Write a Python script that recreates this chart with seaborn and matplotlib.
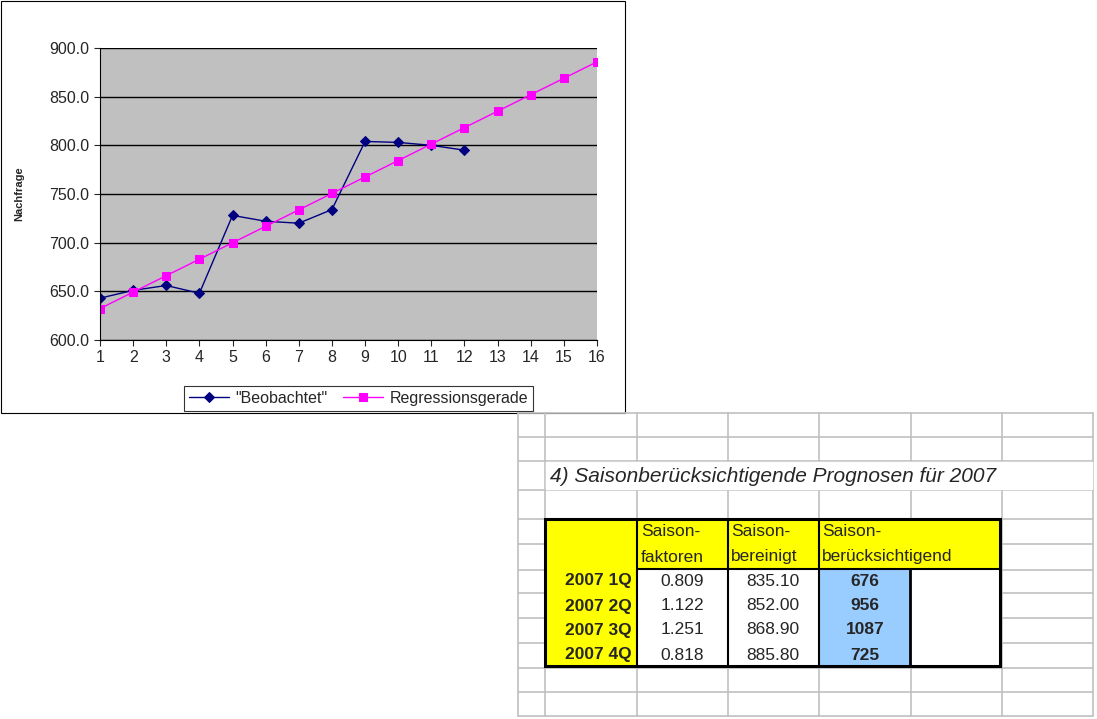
import numpy as np
import pandas as pd
import matplotlib
matplotlib.use('Agg')
import matplotlib.pyplot as plt
import seaborn as sns

# chart data
periods = list(range(1, 17))
observed = [643, 651, 656, 648, 728, 722, 720, 734, 804, 803, 800, 795]
regression = [632.3, 649.2, 666.1, 683.0, 699.9, 716.8, 733.7, 750.6,
              767.5, 784.4, 801.3, 818.2, 835.1, 852.0, 868.9, 885.8]

# table data
quarters = ['2007 1Q', '2007 2Q', '2007 3Q', '2007 4Q']
faktoren = ['0.809', '1.122', '1.251', '0.818']
bereinigt = ['835.10', '852.00', '868.90', '885.80']
prognose = ['676', '956', '1087', '725']

sns.set_style('white')
plt.rcParams['font.family'] = ['Liberation Sans', 'DejaVu Sans']

W, H = 1097, 719
fig = plt.figure(figsize=(W / 100, H / 100), dpi=100)

def box(x0, y0, x1, y1):
    return [x0 / W, 1 - y1 / H, (x1 - x0) / W, (y1 - y0) / H]

# background axes in pixel coordinates
bg = fig.add_axes([0, 0, 1, 1])
bg.set_xlim(0, W)
bg.set_ylim(H, 0)
bg.axis('off')

# chart frame
bg.add_patch(plt.Rectangle((1, 1), 624, 412, fill=False, ec='black', lw=0.8))

# spreadsheet grid
cols = [518, 545, 637, 728, 819, 911, 1002, 1093]
rows = [413, 437, 461, 490, 519, 544, 570, 593, 618, 643, 668, 692, 716]
for x in cols:
    bg.plot([x, x], [rows[0], rows[-1]], color='#c0c0c0', lw=1.2)
for y in rows:
    bg.plot([cols[0], cols[-1]], [y, y], color='#c0c0c0', lw=1.2)

# title row
bg.add_patch(plt.Rectangle((546, 462), 546, 27, color='white', zorder=2))
bg.text(550, 476, '4) Saisonberücksichtigende Prognosen für 2007', fontsize=15,
        style='italic', va='center', zorder=3)

# yellow areas
tx0, tx1 = 545, 1000
ty0, ty1 = 519, 666
bg.add_patch(plt.Rectangle((tx0, ty0), tx1 - tx0, 50, color='#ffff00', zorder=2))
bg.add_patch(plt.Rectangle((tx0, ty0), 92, ty1 - ty0, color='#ffff00', zorder=2))
bg.add_patch(plt.Rectangle((637, 569), 363, 97, color='white', zorder=2))
bg.add_patch(plt.Rectangle((819, 569), 91, 97, color='#99ccff', zorder=2))

# table borders
bg.add_patch(plt.Rectangle((tx0, ty0), tx1 - tx0, ty1 - ty0, fill=False, ec='black', lw=2.2, zorder=4))
for x in [637, 728, 819]:
    bg.plot([x, x], [ty0, ty1], color='black', lw=1.5, zorder=4)
bg.plot([637, 1000], [569, 569], color='black', lw=1.5, zorder=4)
bg.plot([910, 910], [569, ty1], color='black', lw=2, zorder=4)

# headers
hdrs = [('Saison-', 'faktoren', 641), ('Saison-', 'bereinigt', 731), ('Saison-', 'berücksichtigend', 822)]
for a, b, x in hdrs:
    bg.text(x, 532, a, fontsize=12.5, va='center', zorder=5)
    bg.text(x, 557, b, fontsize=12.5, va='center', zorder=5)

row_y = [581, 606, 630, 655]
for i, y in enumerate(row_y):
    bg.text(632, y, quarters[i], fontsize=12.5, weight='bold', ha='right', va='center', zorder=5)
    bg.text(682, y, faktoren[i], fontsize=12.5, ha='center', va='center', zorder=5)
    bg.text(773, y, bereinigt[i], fontsize=12.5, ha='center', va='center', zorder=5)
    bg.text(865, y, prognose[i], fontsize=12.5, weight='bold', ha='center', va='center', zorder=5)

# chart
ax = fig.add_axes(box(100, 48, 597, 340))
ax.set_facecolor('#c0c0c0')
df_obs = pd.DataFrame({'x': periods[:len(observed)], 'y': observed})
df_reg = pd.DataFrame({'x': periods, 'y': regression})
sns.lineplot(data=df_obs, x='x', y='y', ax=ax, color='#000080', lw=1,
             marker='D', markersize=5, markeredgecolor='#000080', label='"Beobachtet"')
sns.lineplot(data=df_reg, x='x', y='y', ax=ax, color='#ff00ff', lw=1,
             marker='s', markersize=6, markeredgecolor='#ff00ff', label='Regressionsgerade')
ax.set_xlim(1, 16)
ax.set_ylim(600, 900)
ax.set_xticks(periods)
ax.set_yticks(np.arange(600, 901, 50))
ax.set_yticklabels([f'{v:.1f}' for v in np.arange(600, 901, 50)])
ax.yaxis.grid(True, color='black', lw=1)
ax.set_axisbelow(True)
for s in ['top', 'right']:
    ax.spines[s].set_visible(False)
ax.spines['left'].set_color('black')
ax.spines['bottom'].set_color('black')
ax.tick_params(axis='both', labelsize=11.5, direction='out', length=4, left=True, bottom=True)
ax.set_xlabel('')
ax.set_ylabel('Nachfrage', fontsize=8, weight='bold', labelpad=18)
leg = ax.legend(loc='upper center', bbox_to_anchor=(0.52, -0.13), ncol=2, fontsize=11.5,
                frameon=True, fancybox=False, edgecolor='black', handlelength=2.5,
                borderpad=0.3, columnspacing=1.0, handletextpad=0.4)
leg.get_frame().set_linewidth(0.8)

fig.savefig('out.png', dpi=100)
